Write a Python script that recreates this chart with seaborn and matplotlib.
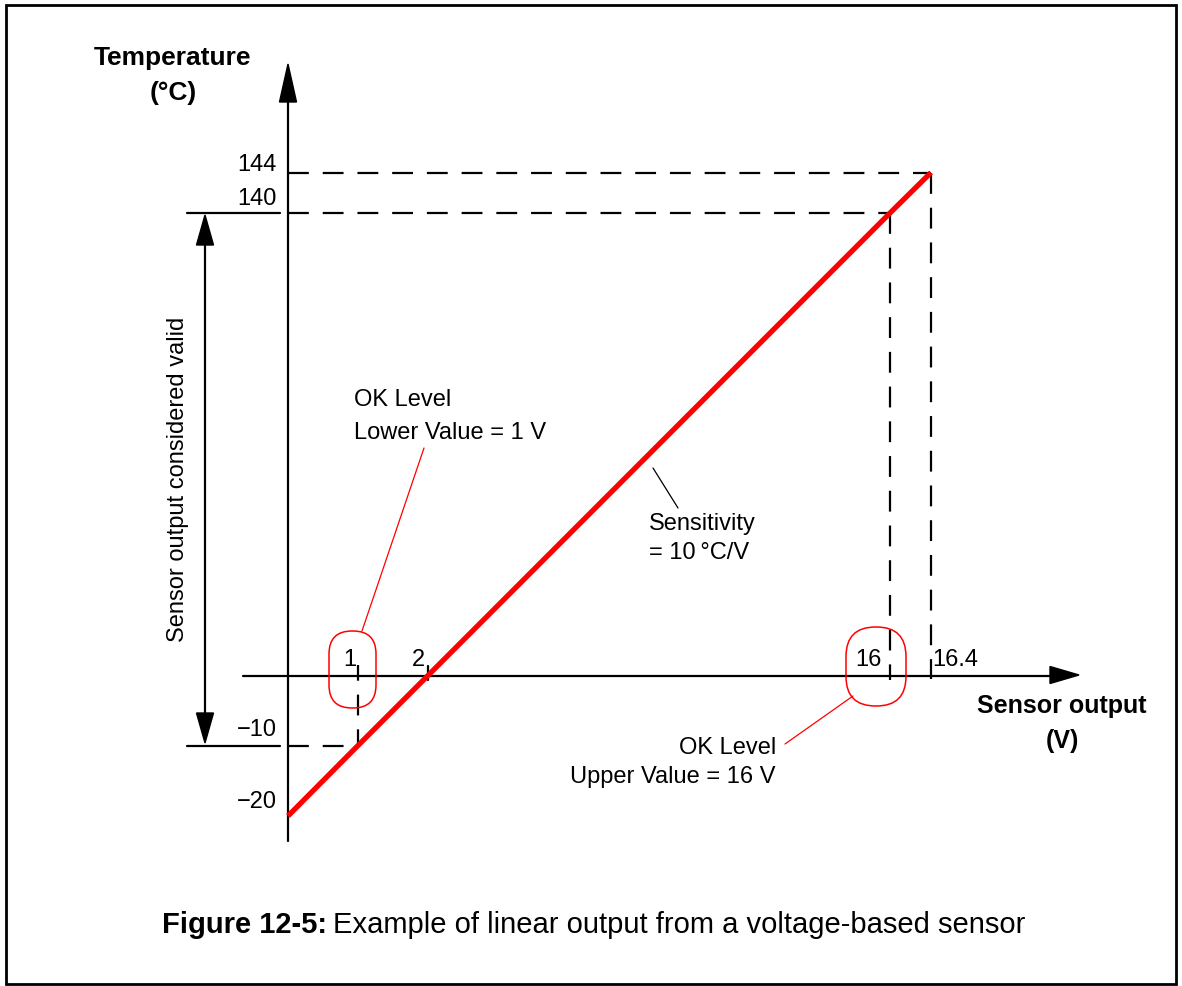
import numpy as np
import matplotlib
matplotlib.use("Agg")
import matplotlib.pyplot as plt
from matplotlib.transforms import Affine2D
from matplotlib.patches import FancyBboxPatch, Polygon, Rectangle
import seaborn as sns
import pandas as pd

# ---- data ---------------------------------------------------------------
voltage = [0, 1, 2, 16, 16.4]            # sensor output (V)
temperature = [-20, -10, 0, 140, 144]    # temperature (°C), 10 °C/V
x_tick_values = [1, 2, 16, 16.4]
x_tick_labels = ["1", "2", "16", "16.4"]
y_tick_values = [144, 140, -10, -20]
y_tick_labels = ["144", "140", "\u221210", "\u221220"]
ok_lower, ok_upper = 1, 16

# ---- figure -------------------------------------------------------------
W, H, DPI = 1182, 987, 100
sns.set_style("white")
plt.rcParams["font.family"] = ["Liberation Sans", "DejaVu Sans"]
plt.rcParams["text.color"] = "black"
plt.rcParams["lines.scale_dashes"] = False

fig = plt.figure(figsize=(W / DPI, H / DPI), dpi=DPI)
ax = fig.add_axes([0, 0, 1, 1])
ax.set_axis_off()

# schematic (non-uniform) axes: piecewise-linear scales
xk_v = np.array([-10, 0, 1, 2, 16, 16.4, 30])
xk_p = np.array([288 - 700, 288, 358, 428, 890, 931, 931 + 13.6 * 102.5])
yk_t = np.array([-100, -20, -10, 0, 140, 144, 300])
yk_top = np.array([817 + 80 * 7, 817, 746.5, 676.5, 214, 173.5, 173.5 - 156 * 10.125])
yk_p = H - yk_top

def xf(v):
    return np.interp(v, xk_v, xk_p)

def xi(p):
    return np.interp(p, xk_p, xk_v)

def yf(t):
    return np.interp(t, yk_t, yk_p)

def yi(p):
    return np.interp(p, yk_p, yk_t)

ax.set_xscale("function", functions=(xf, xi))
ax.set_yscale("function", functions=(yf, yi))
ax.set_xlim(xi(0), xi(W))
ax.set_ylim(yi(0), yi(H))

# pixel transform (origin top-left) for decorations
PX = Affine2D().scale(1 / DPI, -1 / DPI).translate(0, H / DPI) + fig.dpi_scale_trans

def vx(px):
    return float(xi(px))

def ty(py):
    return float(yi(H - py))

K = "black"
LW = 1.6
DASH = (0, (15, 10))

# frame around the figure
fig.patches.append(Rectangle((6, 6), W - 12, H - 8, transform=PX, fill=False,
                             edgecolor=K, lw=2.0, figure=fig))

# axes with arrowheads
ax.plot([0, 0], [ty(842), ty(100)], color=K, lw=LW)
ax.plot([vx(243), vx(1052)], [0, 0], color=K, lw=LW)
fig.patches.append(Polygon([(288, 65), (279.5, 103), (296.5, 103)], closed=True,
                           transform=PX, color=K, figure=fig))
fig.patches.append(Polygon([(1079, 676), (1050, 667.5), (1050, 684.5)], closed=True,
                           transform=PX, color=K, figure=fig))

# dashed guide lines
t_hi, t_top = temperature[3], temperature[4]
v_hi, v_top = voltage[3], voltage[4]
t_lo = temperature[1]
ax.plot([0, v_top], [t_top, t_top], color=K, lw=LW, ls=DASH)
ax.plot([0, v_hi], [t_hi, t_hi], color=K, lw=LW, ls=DASH)
ax.plot([v_top, v_top], [t_top, ty(680)], color=K, lw=LW, ls=DASH)
ax.plot([v_hi, v_hi], [t_hi, ty(681)], color=K, lw=LW, ls=DASH)
ax.plot([0, ok_lower], [t_lo, t_lo], color=K, lw=LW, ls=DASH)
ax.plot([ok_lower, ok_lower], [t_lo, ty(666)], color=K, lw=LW, ls=(3, (15, 10)))
# tick at 2 V
ax.plot([2, 2], [ty(667), ty(681)], color=K, lw=LW)

# valid-range extension lines and double arrow
for t in (t_hi, t_lo):
    ax.plot([vx(187), vx(280)], [t, t], color=K, lw=LW)
ax.plot([vx(205), vx(205)], [ty(245), ty(716)], color=K, lw=LW)
fig.patches.append(Polygon([(205, 216), (196.5, 246), (213.5, 246)], closed=True,
                           transform=PX, color=K, figure=fig))
fig.patches.append(Polygon([(205, 744), (196.5, 714), (213.5, 714)], closed=True,
                           transform=PX, color=K, figure=fig))

# the sensor characteristic
df = pd.DataFrame({"V": voltage, "T": temperature})
sns.lineplot(data=df, x="V", y="T", color="#ff0000", lw=3.8, ax=ax,
             solid_capstyle="butt", legend=False)

# tick labels
FS = 17
x_offsets = {1: (-8, 16), 2: (-10, 16), 16: (-22, 16), 16.4: (24, 16)}
for v, lab in zip(x_tick_values, x_tick_labels):
    dx, dy = x_offsets[v]
    ax.annotate(lab, xy=(v, 0), xytext=(dx, dy), textcoords="offset pixels",
                ha="center", va="center", fontsize=FS, color=K)
y_offsets = {144: 8, 140: 15, -10: 16, -20: 15}
for t, lab in zip(y_tick_values, y_tick_labels):
    ax.annotate(lab, xy=(0, t), xytext=(-11, y_offsets[t]), textcoords="offset pixels",
                ha="right", va="center", fontsize=FS, color=K)

# OK level markers (stadium outlines) and leaders
def stadium(cx, cy, w, h):
    p = FancyBboxPatch((cx - w / 2, cy - h / 2), w, h,
                       boxstyle=f"round,pad=0,rounding_size={w / 2 - 0.5}",
                       transform=PX, fill=False, edgecolor="#ff0000", lw=1.1, figure=fig)
    fig.patches.append(p)

stadium(352.5, 670.5, 47, 77)
stadium(876, 667.5, 60, 79)
fig.lines.append(plt.Line2D([362, 424], [632, 449], transform=PX, color="#ff0000", lw=0.9))
fig.lines.append(plt.Line2D([853, 785], [697, 745], transform=PX, color="#ff0000", lw=0.9))
fig.lines.append(plt.Line2D([653, 678], [469, 509], transform=PX, color=K, lw=0.9))

# annotations
fig.text(354, 400, "OK Level", transform=PX, fontsize=FS, ha="left", va="center")
fig.text(354, 433, "Lower Value = 1 V", transform=PX, fontsize=FS, ha="left", va="center")
fig.text(776, 748, "OK Level", transform=PX, fontsize=FS, ha="right", va="center")
fig.text(776, 777, "Upper Value = 16 V", transform=PX, fontsize=FS, ha="right", va="center")
fig.text(649, 524, "Sensitivity", transform=PX, fontsize=FS, ha="left", va="center")
fig.text(649, 553, "= 10\u2009\u00b0C/V", transform=PX, fontsize=FS, ha="left", va="center")
fig.text(178, 479, "Sensor output considered valid", transform=PX, fontsize=FS,
         ha="center", va="center", rotation=90)

# axis titles
fig.text(173, 58, "Temperature", transform=PX, fontsize=19, fontweight="bold",
         ha="center", va="center")
fig.text(173, 93, "(\u00b0C)", transform=PX, fontsize=19, fontweight="bold",
         ha="center", va="center")
fig.text(1062, 706, "Sensor output", transform=PX, fontsize=18, fontweight="bold",
         ha="center", va="center")
fig.text(1062, 741, "(V)", transform=PX, fontsize=18, fontweight="bold",
         ha="center", va="center")

# caption
cap_y = 925
CFS = 21
t1 = fig.text(162, cap_y, "Figure 12-5:", transform=PX, fontsize=CFS, fontweight="bold",
              ha="left", va="center")
fig.canvas.draw()
bb = t1.get_window_extent()
fig.text(162 + bb.width + 6, cap_y, "Example of linear output from a voltage-based sensor",
         transform=PX, fontsize=CFS, ha="left", va="center")

fig.savefig("out.png", dpi=DPI)
